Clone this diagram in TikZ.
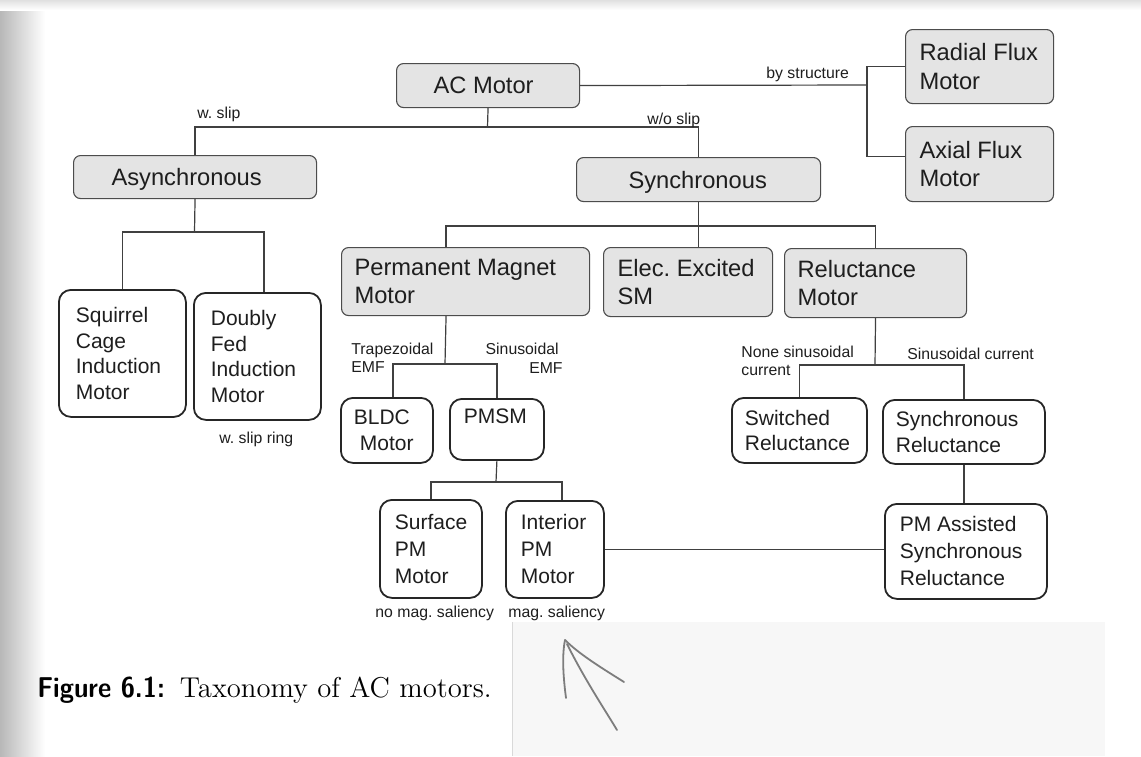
\documentclass[tikz,border=0pt]{standalone}
\usepackage{fontspec}
\usepackage{graphicx}
\frenchspacing
\newfontfamily\arial{Liberation Sans}
\definecolor{boxgray}{RGB}{228,228,228}
\definecolor{textdark}{RGB}{30,30,30}
\definecolor{pen}{RGB}{125,125,125}
\newcommand{\motorbox}[8]{%
 \pgfmathsetmacro\bw{(#5-#3)*0.5}%
 \pgfmathsetmacro\bh{(#6-#4)*0.5}%
 \pgfmathsetmacro\pl{#7*0.5}%
 \pgfmathsetmacro\tw{(#5-#3-#7-4)*0.5}%
 \node[#1, anchor=north west, minimum width=\bw pt, minimum height=\bh pt, inner sep=0pt] (#2) at (#3,#4)
   {\hspace*{\pl pt}\parbox[c]{\tw pt}{\raggedright\frenchspacing #8}\hspace*{2pt}};}
\newcommand{\nodepth}[1]{\raisebox{0pt}[\height][0pt]{#1}}
\tikzset{
 graybox/.style={draw=black!70, fill=boxgray, rounded corners=3.5pt, line width=0.55pt,
   font=\arial\fontsize{11.85}{14.2}\selectfont, text=textdark},
 whitebox/.style={draw=black!85, fill=white, rounded corners=6pt, line width=0.9pt,
   font=\arial\fontsize{10.5}{12.8}\selectfont, text=textdark},
 lowbox/.style={whitebox, font=\arial\fontsize{10.5}{13.5}\selectfont},
 conn/.style={draw=black!75, line width=0.6pt},
 lbl/.style={font=\arial\fontsize{7.9}{9}\selectfont, inner sep=0pt, text=textdark},
 penstroke/.style={draw=pen, line width=0.9pt, line cap=round, line join=round},
}
\begin{document}
\begin{tikzpicture}[x=0.5pt, y=-0.5pt]
\useasboundingbox (0,0) rectangle (1141,756);
% scan background
\fill[white] (0,0) rectangle (1141,756);
\fill[black!3] (512,622) rectangle (1105,756);
\draw[black!15, line width=0.4pt] (512,622) -- (512,756);
\shade[left color=black!28, right color=white] (0,0) rectangle (45,756);
\shade[top color=black!12, bottom color=white] (0,0) rectangle (1141,10);

% boxes
\motorbox{graybox}{ac}{396}{63}{579}{107}{37}{AC Motor}
\motorbox{graybox}{rad}{905}{29}{1053}{103}{14}{Radial Flux\\Motor}
\motorbox{graybox}{ax}{905}{126}{1053}{201}{14}{Axial Flux\\Motor}
\motorbox{graybox}{async}{73}{155}{316}{198}{38}{\nodepth{Asynchronous}}
\motorbox{graybox}{sync}{576}{157}{820}{201}{52}{\nodepth{Synchronous}}
\motorbox{graybox}{pm}{341}{247}{589}{315}{13}{Permanent Magnet\\Motor}
\motorbox{graybox}{elec}{603}{247}{772}{316}{14}{Elec. Excited\\SM}
\motorbox{graybox}{rel}{784}{248}{966}{317}{13}{Reluctance\\Motor}
\motorbox{whitebox}{sq}{58}{289}{185}{416}{17}{Squirrel\\Cage\\Induction\\Motor}
\motorbox{whitebox}{db}{193}{292}{320}{419}{17}{Doubly\\Fed\\Induction\\Motor}
\motorbox{whitebox}{bldc}{340}{397}{432}{462}{13}{BLDC\\\hspace*{3pt}Motor}
\motorbox{whitebox}{pmsm}{449}{398}{543}{459}{14}{PMSM\\\phantom{Motor}}
\motorbox{whitebox}{sw}{731}{397}{866}{462}{13}{Switched\\Reluctance}
\motorbox{whitebox}{synrel}{882}{399}{1044}{463}{13}{Synchronous\\Reluctance}
\motorbox{lowbox}{spm}{379}{499}{481}{597}{15}{Surface\\PM\\Motor}
\motorbox{lowbox}{ipm}{505}{500}{603}{597}{15}{Interior\\PM\\Motor}
\motorbox{lowbox}{pmasr}{884}{503}{1046}{598}{15}{PM Assisted\\Synchronous\\Reluctance}

% connectors
\coordinate (bs) at (867,85);
\draw[conn] (ac.east) -- (bs);
\draw[conn] (rad.west) -| (bs) |- ([yshift=3.75pt]ax.west);
\coordinate (j1) at (487.5,127);
\draw[conn] (ac.south) -- (j1);
\draw[conn] (async.north) |- (j1) -| (sync.north);
\coordinate (j2) at (194.5,232);
\draw[conn] (async.south) -- (j2);
\draw[conn] (sq.north) |- (j2) -| ([xshift=3.25pt]db.north);
\coordinate (j3) at (698,226);
\draw[conn] (sync.south) -- (sync.south |- elec.north);
\draw[conn] ([xshift=-9.75pt]pm.north) |- (j3) -| (rel.north);
\coordinate (j4) at (445,364);
\draw[conn] ([xshift=-9.75pt]pm.south) -- (j4);
\draw[conn] ([xshift=3pt]bldc.north) |- (j4) -| (pmsm.north);
\coordinate (j5) at (496,482);
\draw[conn] (pmsm.south) -- (j5);
\draw[conn] (spm.north) |- (j5) -| ([xshift=3.5pt]ipm.north);
\coordinate (j6) at (875,365);
\draw[conn] (rel.south) -- (j6);
\draw[conn] (sw.north) |- (j6) -| (synrel.north);
\draw[conn] (synrel.south) -- (synrel.south |- pmasr.north);
\draw[conn] (ipm.east) -- (ipm.east -| pmasr.west);

% labels
\node[lbl, anchor=base west] (lwslip) at (197,118) {w. slip};
\node[lbl, anchor=base west] (lwoslip) at (647,124) {w/o slip};
\node[lbl, anchor=base west] (lbystr) at (766,78) {by structure};
\node[lbl, anchor=base west] (lslipring) at (219,443) {w. slip ring};
\node[lbl, anchor=base west] (ltrapa) at (351,354) {Trapezoidal};
\node[lbl, anchor=base west] (ltrapb) at (351,372) {EMF};
\node[lbl, anchor=base east] (lsina) at (559,354) {Sinusoidal};
\node[lbl, anchor=base east] (lsinb) at (563,373) {EMF};
\node[lbl, anchor=base west] (lnonea) at (741,357) {None sinusoidal};
\node[lbl, anchor=base west] (lnoneb) at (741,375) {current};
\node[lbl, anchor=base west] (lsincur) at (907,359) {Sinusoidal current};
\node[lbl, anchor=base west] (lnosal) at (375,617) {no mag. saliency};
\node[lbl, anchor=base west] (lsal) at (508,617) {mag. saliency};

% caption
\node[anchor=base west, inner sep=0pt, font=\fontsize{14.35}{17}\selectfont] (cap) at (37,697)
  {\scalebox{0.9}[1]{\sffamily\bfseries Figure 6.1:}\hspace{7.5pt}\rmfamily Taxonomy of AC motors.};

% handwritten arrow
\draw[penstroke] (566,698) .. controls (563,675) and (562,655) .. (565,640);
\draw[penstroke] (565,640) .. controls (580,655) and (605,670) .. (624,682);
\draw[penstroke] (567,644) .. controls (585,680) and (605,710) .. (617,730);
\end{tikzpicture}
\end{document}
